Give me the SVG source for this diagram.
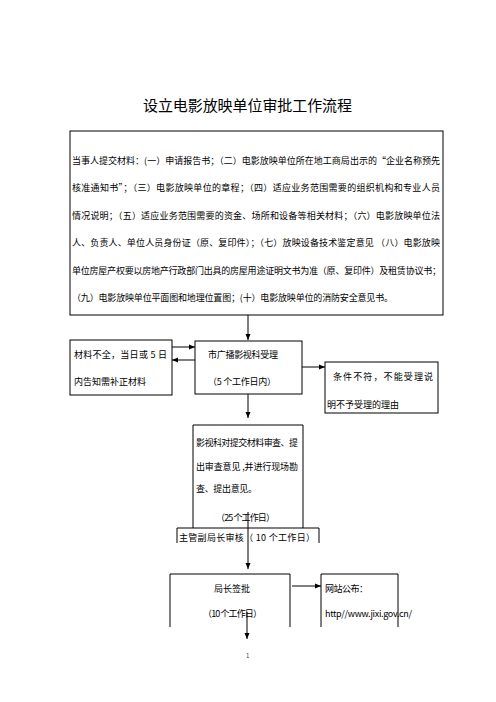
<svg xmlns="http://www.w3.org/2000/svg" width="496" height="702" viewBox="0 0 496 702">
<style>
text{font-family:"Noto Sans CJK SC","Liberation Sans",sans-serif;fill:#000;font-size:9px}
.t{font-size:15px}
.b{fill:#fff;stroke:#000;stroke-width:1}
.l{stroke:#000;stroke-width:1;fill:none}
.c{stroke:#000;stroke-width:1;fill:none;marker-end:url(#ah)}
</style>
<defs>
<marker id="ah" markerWidth="6" markerHeight="6" refX="6" refY="3" orient="auto" markerUnits="userSpaceOnUse">
<path d="M0,0.5 L6,3 L0,5.5 Z" fill="#000"/>
</marker>
</defs>
<rect width="496" height="702" fill="#fff"/>
<text class="t" x="143" y="111" textLength="209" lengthAdjust="spacing">设立电影放映单位审批工作流程</text>

<g id="materials">
<rect class="b" x="70" y="131" width="373" height="184"/>
<text x="72" y="164" textLength="368" lengthAdjust="spacing">当事人提交材料：(一）申请报告书；（二）电影放映单位所在地工商局出示的“企业名称预先</text>
<text x="72" y="191" textLength="368" lengthAdjust="spacing">核准通知书”；（三）电影放映单位的章程；（四）适应业务范围需要的组织机构和专业人员</text>
<text x="72" y="219" textLength="368" lengthAdjust="spacing">情况说明；（五）适应业务范围需要的资金、场所和设备等相关材料；（六）电影放映单位法</text>
<text x="72" y="246" textLength="368" lengthAdjust="spacing">人、负责人、单位人员身份证（原、复印件）；（七）放映设备技术鉴定意见 （八）电影放映</text>
<text x="72" y="274" textLength="369" lengthAdjust="spacing">单位房屋产权要以房地产行政部门出具的房屋用途证明文书为准（原、复印件）及租赁协议书；</text>
<text x="72" y="301" textLength="321" lengthAdjust="spacing">（九）电影放映单位平面图和地理位置图；(十）电影放映单位的消防安全意见书。</text>
</g>

<g id="incomplete">
<rect class="b" x="70" y="340" width="102" height="55"/>
<text x="74" y="358" textLength="93" lengthAdjust="spacing">材料不全，当日或 5 日</text>
<text x="74" y="385" textLength="72" lengthAdjust="spacing">内告知需补正材料</text>
</g>

<g id="accept">
<rect class="b" x="195" y="341" width="107" height="53"/>
<text x="208" y="358" textLength="70" lengthAdjust="spacing">市广播影视科受理</text>
<text x="208" y="385" textLength="68" lengthAdjust="spacing">（5 个工作日内）</text>
</g>

<g id="reject">
<rect class="b" x="325" y="362" width="113" height="51"/>
<text x="333" y="380" textLength="100" lengthAdjust="spacing">条件不符，不能受理说</text>
<text x="327" y="408" textLength="72" lengthAdjust="spacing">明不予受理的理由</text>
</g>

<g id="review">
<path class="l" d="M193,528 V425 H303 V528"/>
<text x="196" y="446" textLength="102" lengthAdjust="spacing">影视科对提交材料审查、提</text>
<text x="196" y="470" textLength="102" lengthAdjust="spacing">出审查意见 ,并进行现场勘</text>
<text x="196" y="492" textLength="61" lengthAdjust="spacing">查、提出意见。</text>
<text x="216" y="521" textLength="59" lengthAdjust="spacing">（25 个工作日）</text>
</g>

<g id="deputy">
<path class="l" d="M177,543 V528 H319 V543"/>
<text x="179" y="541" textLength="136" lengthAdjust="spacing">主管副局长审核（ 10 个工作日）</text>
</g>

<g id="director">
<path class="l" d="M170,627 V574 H290 V627"/>
<text x="214" y="592" textLength="36" lengthAdjust="spacing">局长签批</text>
<text x="203" y="617" textLength="59" lengthAdjust="spacing">（10 个工作日）</text>
</g>

<g id="website">
<path class="l" d="M321,627 V574 H398 V627"/>
<text x="325" y="592" textLength="43" lengthAdjust="spacing">网站公布：</text>
<text x="325" y="617" textLength="87" lengthAdjust="spacing">http//www.jixi.gov.cn/</text>
</g>

<g id="connectors">
<line class="c" x1="248" y1="315" x2="248" y2="340"/>
<line class="c" x1="172" y1="347" x2="195" y2="347"/>
<line class="c" x1="195" y1="360" x2="172" y2="360"/>
<line class="c" x1="302" y1="367" x2="325" y2="367"/>
<line class="c" x1="248" y1="394" x2="248" y2="418"/>
<line class="c" x1="248" y1="512" x2="248" y2="569"/>
<line class="c" x1="292" y1="586" x2="321" y2="586"/>
<line class="c" x1="247" y1="612" x2="247" y2="639"/>
</g>
<text x="246" y="658" style="font-size:6px;fill:#444">1</text>
</svg>
